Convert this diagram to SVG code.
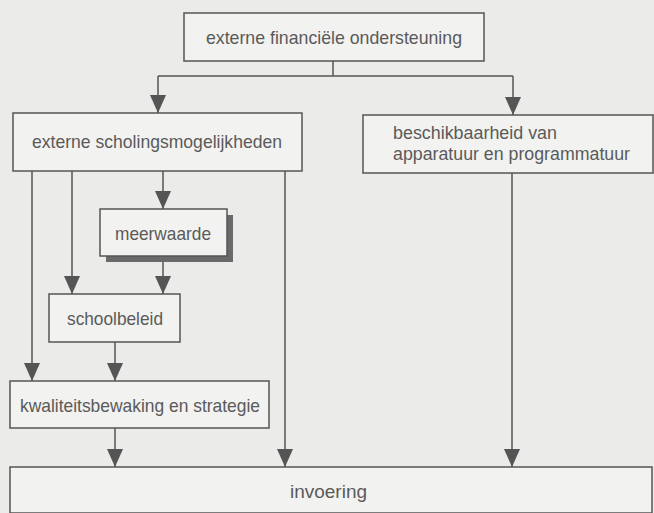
<svg xmlns="http://www.w3.org/2000/svg" width="654" height="513" viewBox="0 0 654 513">
  <style>
    .box { fill: #f2f2f1; stroke: #555; stroke-width: 1.5; }
    .shadow { fill: #6a6a6a; }
    .lbl { font-family: "Liberation Sans", Arial, sans-serif; font-size: 18.5px; fill: #5a5a5a; }
    .lbl2 { font-size: 17.5px; }
    .con { fill: none; stroke: #555; stroke-width: 1.5; }
  </style>
  <defs>
    <marker id="arrow" viewBox="0 0 18 16" refX="18" refY="8" markerWidth="18" markerHeight="16" markerUnits="userSpaceOnUse" orient="auto">
      <path d="M0,0 L18,8 L0,16 z" fill="#555"/>
    </marker>
  </defs>

  <rect width="654" height="513" fill="#ebebea"/>

  <g id="connectors" class="con">
    <path d="M333,61 V76 M158,76 H513"/>
    <path d="M158,76 V113" marker-end="url(#arrow)"/>
    <path d="M513,76 V115" marker-end="url(#arrow)"/>
    <path d="M32,171 V381" marker-end="url(#arrow)"/>
    <path d="M72,171 V294" marker-end="url(#arrow)"/>
    <path d="M163,171 V209" marker-end="url(#arrow)"/>
    <path d="M285,171 V467" marker-end="url(#arrow)"/>
    <path d="M163,256 V294" marker-end="url(#arrow)"/>
    <path d="M115,342 V381" marker-end="url(#arrow)"/>
    <path d="M115,428 V467" marker-end="url(#arrow)"/>
    <path d="M512,173 V467" marker-end="url(#arrow)"/>
  </g>

  <g id="financiering">
    <rect class="box" x="184" y="13" width="300" height="48"/>
    <text class="lbl" x="206" y="44" textLength="256" lengthAdjust="spacingAndGlyphs">externe financiële ondersteuning</text>
  </g>

  <g id="scholing">
    <rect class="box" x="13" y="113" width="289" height="58"/>
    <text class="lbl" x="32" y="148" textLength="250" lengthAdjust="spacingAndGlyphs">externe scholingsmogelijkheden</text>
  </g>

  <g id="apparatuur">
    <rect class="box" x="363" y="115" width="290" height="58"/>
    <text class="lbl lbl2" x="393" y="139" textLength="164" lengthAdjust="spacingAndGlyphs">beschikbaarheid van</text>
    <text class="lbl lbl2" x="393" y="160" textLength="237" lengthAdjust="spacingAndGlyphs">apparatuur en programmatuur</text>
  </g>

  <g id="meerwaarde">
    <rect class="shadow" x="106" y="215" width="127" height="47"/>
    <rect class="box" x="100" y="209" width="127" height="47"/>
    <text class="lbl" x="115" y="240" textLength="96" lengthAdjust="spacingAndGlyphs">meerwaarde</text>
  </g>

  <g id="schoolbeleid">
    <rect class="box" x="49" y="294" width="131" height="48"/>
    <text class="lbl" x="67" y="325" textLength="96" lengthAdjust="spacingAndGlyphs">schoolbeleid</text>
  </g>

  <g id="kwaliteitsbewaking">
    <rect class="box" x="10" y="381" width="259" height="47"/>
    <text class="lbl" x="20" y="412" textLength="240" lengthAdjust="spacingAndGlyphs">kwaliteitsbewaking en strategie</text>
  </g>

  <g id="invoering">
    <rect class="box" x="10" y="467" width="642" height="46"/>
    <text class="lbl" x="290" y="498" textLength="77" lengthAdjust="spacingAndGlyphs">invoering</text>
  </g>
</svg>
